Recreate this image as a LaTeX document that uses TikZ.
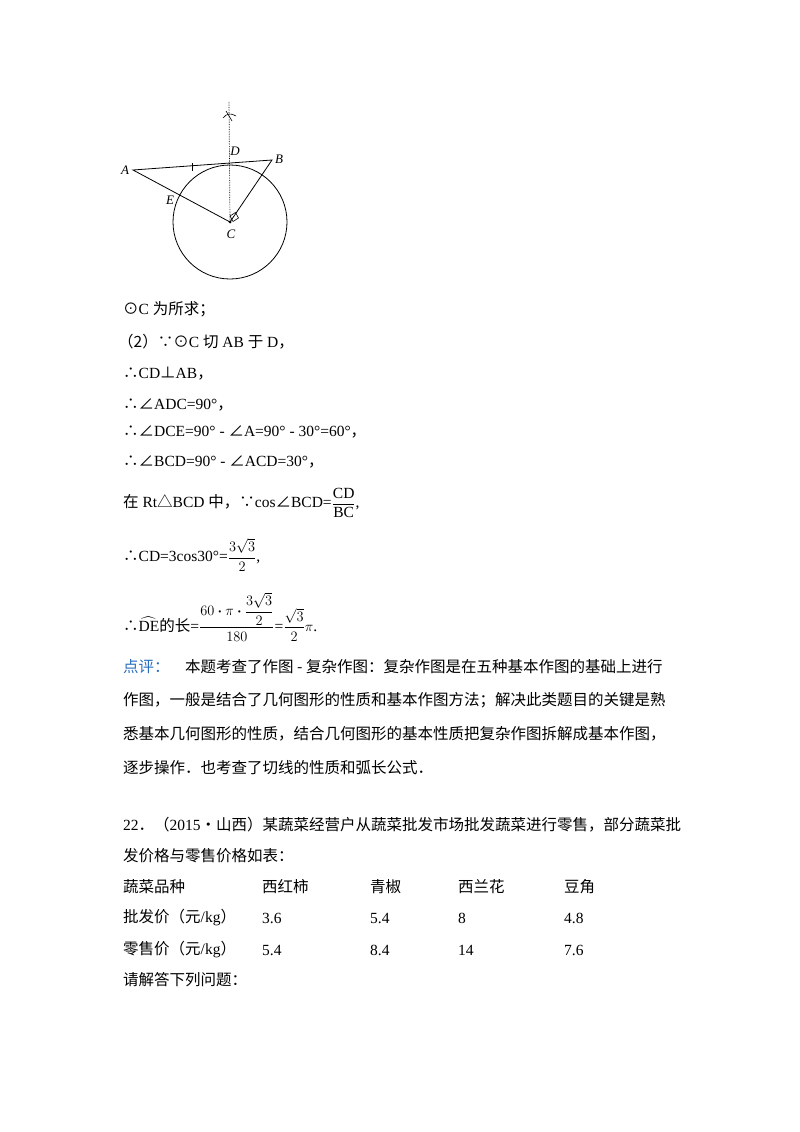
\documentclass[tikz,border=0pt]{standalone}
\usepackage{amsmath}
\usepackage{fontspec}
\setmainfont{Liberation Serif}
\newfontfamily\cjk{Noto Sans CJK SC}
\newcommand{\zh}[1]{{\cjk #1}}
\begin{document}
\begin{tikzpicture}[x=1pt,y=-1pt,
  txt/.style={anchor=west,inner sep=0pt,font=\fontsize{15.5}{18}\selectfont},
  lbl/.style={inner sep=1pt,font=\fontsize{13}{14}\selectfont\itshape},
  geo/.style={line width=0.8pt}]
\useasboundingbox (0,0) rectangle (800,1132);
% diagram
\coordinate (A) at (133,170);
\coordinate (B) at (272,160);
\coordinate (C) at (230,222);
\coordinate (D) at (229,164);
\coordinate (E) at (176,199);
\coordinate (T) at (229,102);
\draw[geo] (C) circle (57);
\draw[geo] (A) -- (B) -- (C) -- cycle;
\draw[densely dotted,line width=0.7pt] (T) -- (C);
\draw[line width=0.6pt] (223,118) .. controls (227,113) and (231,113) .. (236,116);
\draw[line width=0.6pt] (226,111) -- (232,121);
\draw[line width=0.7pt] (192,163) -- (192,171);
\draw[line width=0.6pt] (230,216) -- (235.5,212.5) -- (238.5,218) -- (233,221.5) -- cycle;
\fill (C) circle (1.5);
\node[lbl] (lA) at (125,170) {A};
\node[lbl] (lB) at (279,159) {B};
\node[lbl] (lD) at (235,151) {D};
\node[lbl] (lE) at (170,200) {E};
\node[lbl] (lC) at (231,234) {C};
% text
\node[txt] (t1) at (123,309) {\zh{⊙}C \zh{为所求；}};
\node[txt] (t2) at (118,342) {\zh{（2）∵⊙}C \zh{切} AB \zh{于} D\zh{，}};
\node[txt] (t3) at (123,374) {\zh{∴}CD\zh{⊥}AB\zh{，}};
\node[txt] (t4) at (123,405) {\zh{∴∠}ADC=90°\zh{，}};
\node[txt] (t5) at (123,432) {\zh{∴∠}DCE=90° - \zh{∠}A=90° - 30°=60°\zh{，}};
\node[txt] (t6) at (123,462) {\zh{∴∠}BCD=90° - \zh{∠}ACD=30°\zh{，}};
\node[txt] (t7) at (123,503) {\zh{在} Rt\zh{△}BCD \zh{中，∵}cos\zh{∠}BCD=$\dfrac{\mathrm{CD}}{\mathrm{BC}}$,};
\node[txt] (t8) at (123,555) {\zh{∴}CD=3cos30°=$\dfrac{3\sqrt{3}}{2}$,};
\node[txt] (t9) at (123,617) {\zh{∴}$\widehat{\mathrm{DE}}$\zh{的长}=$\dfrac{60\boldsymbol{\cdot}\pi\boldsymbol{\cdot}\dfrac{3\sqrt{3}}{2}}{180}$=$\dfrac{\sqrt{3}}{2}\pi$.};
\node[txt] (p1) at (123,667) {\zh{\textcolor[RGB]{40,110,190}{点评：}\quad 本题考查了作图 - 复杂作图：复杂作图是在五种基本作图的基础上进行}};
\node[txt] (p2) at (123,700) {\zh{作图，一般是结合了几何图形的性质和基本作图方法；解决此类题目的关键是熟}};
\node[txt] (p3) at (123,734) {\zh{悉基本几何图形的性质，结合几何图形的基本性质把复杂作图拆解成基本作图，}};
\node[txt] (p4) at (123,768) {\zh{逐步操作．也考查了切线的性质和弧长公式．}};
\node[txt] (q1) at (123,825) {22\zh{．（}2015\zh{•山西）某蔬菜经营户从蔬菜批发市场批发蔬菜进行零售，部分蔬菜批}};
\node[txt] (q2) at (123,856) {\zh{发价格与零售价格如表：}};
\node[txt] (r1a) at (123,887) {\zh{蔬菜品种}};
\node[txt] (r1b) at (262,887) {\zh{西红柿}};
\node[txt] (r1c) at (370,887) {\zh{青椒}};
\node[txt] (r1d) at (458,887) {\zh{西兰花}};
\node[txt] (r1e) at (564,887) {\zh{豆角}};
\node[txt] (r2a) at (123,918) {\zh{批发价（元}/kg\zh{）}};
\node[txt] (r2b) at (262,918) {3.6};
\node[txt] (r2c) at (370,918) {5.4};
\node[txt] (r2d) at (458,918) {8};
\node[txt] (r2e) at (564,918) {4.8};
\node[txt] (r3a) at (123,950) {\zh{零售价（元}/kg\zh{）}};
\node[txt] (r3b) at (262,950) {5.4};
\node[txt] (r3c) at (370,950) {8.4};
\node[txt] (r3d) at (458,950) {14};
\node[txt] (r3e) at (564,950) {7.6};
\node[txt] (q3) at (123,980) {\zh{请解答下列问题：}};
\end{tikzpicture}
\end{document}
